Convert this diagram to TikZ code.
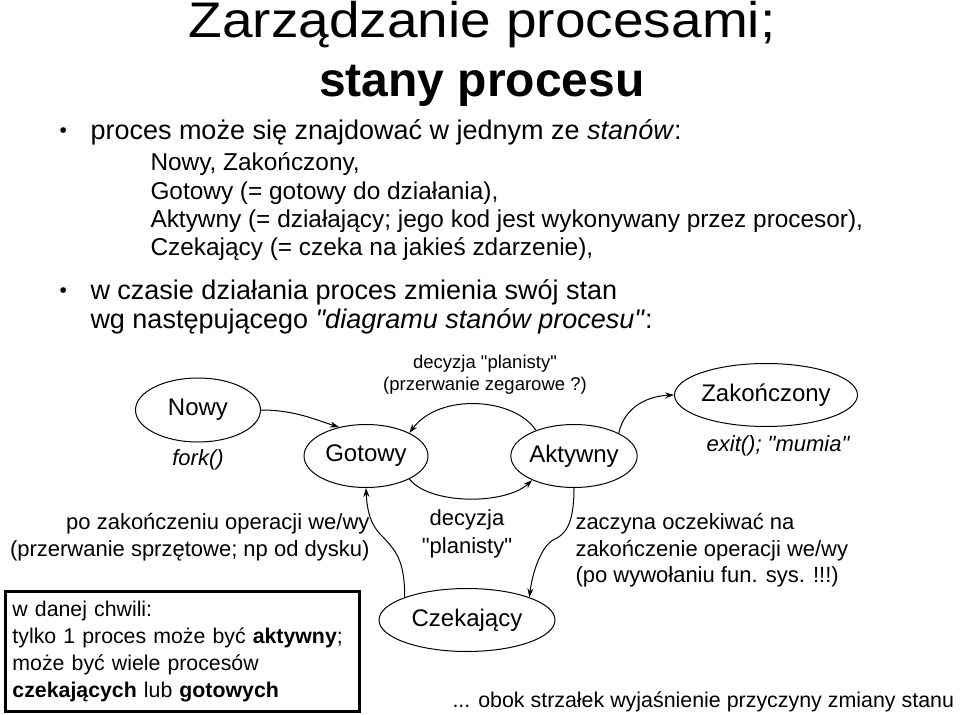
\documentclass[tikz,border=0pt]{standalone}
\usepackage{fontspec}
\setmainfont{Liberation Sans}
\newfontfamily\titlefont{Liberation Sans}[FakeStretch=1.1]
\usetikzlibrary{shapes.geometric,arrows.meta}

\begin{document}
\begin{tikzpicture}[x=1pt,y=-1pt, line width=1pt,
  >={Stealth[length=9pt,width=6pt]},
  state/.style={draw, ellipse, inner sep=0pt, minimum height=63pt, font=\fontsize{24}{28}\selectfont},
  note/.style={align=center, inner sep=0pt, font=\fontsize{22}{28}\selectfont},
  item/.style={anchor=base west, inner sep=0pt, font=\fontsize{27}{29}\selectfont},
  subitem/.style={anchor=base west, inner sep=0pt, font=\fontsize{24.4}{28}\selectfont},
  dot/.style={anchor=base west, inner sep=0pt, font=\fontsize{21}{29}\selectfont}]
\useasboundingbox (0,0) rectangle (960,714);

% title
\node[anchor=base, inner sep=0pt, font=\fontsize{50}{60}\titlefont] (title) at (482,38) {Zarządzanie procesami;};
\node[anchor=base, inner sep=0pt, font=\fontsize{48}{56}\selectfont\bfseries] (subtitle) at (482,97) {stany procesu};

% bullets
\node[dot] (dot1) at (59,138) {•};
\node[item] (line1) at (90,140) {proces może się znajdować w jednym ze \textit{stanów}:};
\node[subitem] (line2) at (150,171) {Nowy, Zakończony,};
\node[subitem] (line3) at (150,199) {Gotowy (= gotowy do działania),};
\node[subitem] (line4) at (150,227) {Aktywny (= działający; jego kod jest wykonywany przez procesor),};
\node[subitem] (line5) at (150,255) {Czekający (= czeka na jakieś zdarzenie),};
\node[dot] (dot2) at (59,297) {•};
\node[item] (line6) at (90,299) {w czasie działania proces zmienia swój stan};
\node[item] (line7) at (90,328) {wg następującego \textit{\textquotedbl diagramu stanów procesu\textquotedbl}:};

% states
\node[state, minimum width=125pt, minimum height=64pt] (nowy) at (198,410) {Nowy};
\node[state, minimum width=124pt] (gotowy) at (366,456) {Gotowy};
\node[state, minimum width=125pt] (aktywny) at (574,456) {Aktywny};
\node[state, minimum width=170pt] (zakonczony) at (766,395) {Zakończony};
\node[state, minimum width=176pt] (czekajacy) at (467,620) {Czekający};

% labels
\node[note] (fork) at (198,460) {\itshape fork()};
\node[note] (exit) at (778,446) {\itshape exit(); \textquotedbl mumia\textquotedbl};
\node[note, anchor=north, font=\fontsize{18.5}{22}\selectfont] (zegar) at (485,355) {decyzja \textquotedbl planisty\textquotedbl\\(przerwanie zegarowe ?)};
\node[note, anchor=north] (planista) at (467,509) {decyzja\\\textquotedbl planisty\textquotedbl};
\node[note, anchor=north east, align=right, font=\fontsize{22}{27}\selectfont] (wewy) at (370,513) {po zakończeniu operacji we/wy\\(przerwanie sprzętowe; np od dysku)};
\node[note, anchor=north west, align=left, font=\fontsize{22}{26.5}\selectfont] (czeka) at (575,513) {zaczyna oczekiwać na\\zakończenie operacji we/wy\\(po wywołaniu fun. sys. !!!)};
\node[draw, line width=3pt, anchor=north west, align=left, text width=340pt, inner xsep=7pt, minimum height=120pt, font=\fontsize{21.3}{26.7}\selectfont] (uwaga) at (4,590)
  {w danej chwili:\\tylko 1 proces może być \textbf{aktywny};\\może być wiele procesów\\\textbf{czekających} lub \textbf{gotowych}};
\node[anchor=base west, inner sep=0pt, font=\fontsize{21.4}{26}\selectfont] (obok) at (452,707) {... obok strzałek wyjaśnienie przyczyny zmiany stanu};

% transitions
\draw[->] (nowy.east) .. controls (295,410) and (316,420) .. (gotowy.133);
\draw[->] (aktywny.146) .. controls (515,398) and (440,392) .. (gotowy.28);
\draw[->] (gotowy.-28) .. controls (430,505) and (505,505) .. (aktywny.-150);
\draw[->] (aktywny.27) .. controls (625,405) and (650,396) .. (zakonczony.west);
\draw[->] (aktywny.south) .. controls (574,525) and (565,535) .. (553,540) .. controls (540,548) and (532,575) .. (czekajacy.20);
\draw[->] (czekajacy.160) .. controls (405,560) and (395,550) .. (383,537) .. controls (370,525) and (367,510) .. (gotowy.south);
\end{tikzpicture}
\end{document}
